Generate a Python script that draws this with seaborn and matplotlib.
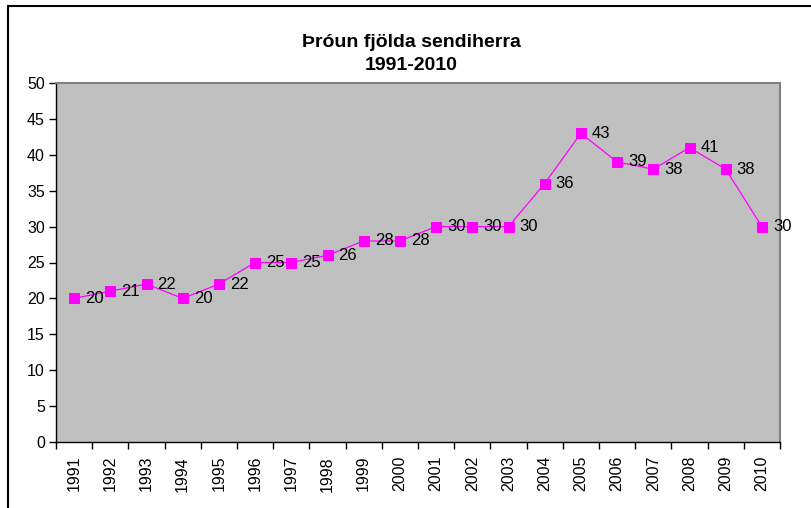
import matplotlib
matplotlib.use("Agg")
import matplotlib.pyplot as plt
import matplotlib.patches as patches
from matplotlib.ticker import FixedLocator, NullFormatter
import seaborn as sns
import pandas as pd

# Data
years = [str(y) for y in range(1991, 2011)]
ambassadors = [20, 21, 22, 20, 22, 25, 25, 26, 28, 28,
               30, 30, 30, 36, 43, 39, 38, 41, 38, 30]
title_text = "Þróun fjölda sendiherra\n1991-2010"

sns.set_theme(style="white", rc={'text.color': 'black', 'xtick.color': 'black',
                                 'ytick.color': 'black', 'axes.labelcolor': 'black'})
plt.rcParams['font.family'] = ['Liberation Sans', 'DejaVu Sans']

df = pd.DataFrame({'pos': range(len(years)), 'year': years, 'count': ambassadors})

fig = plt.figure(figsize=(8.11, 5.08), dpi=100)
ax = fig.add_axes([56 / 811, 1 - 442 / 508, (780 - 56) / 811, (442 - 83) / 508])
ax.set_facecolor('#C0C0C0')

sns.lineplot(data=df, x='pos', y='count', ax=ax, color='#FF00FF', linewidth=0.9,
             marker='s', markersize=6.5, markeredgecolor='#FF00FF', markerfacecolor='#FF00FF')

# Data labels
for i, v in enumerate(df['count']):
    ax.annotate(str(v), (i, v), xytext=(8, 0), textcoords='offset points',
                va='center', ha='left', fontsize=12, color='black')

# Axes limits and ticks (Excel style: ticks between categories)
ax.set_xlim(-0.5, len(years) - 0.5)
ax.set_ylim(0, 50)
ax.set_yticks(range(0, 51, 5))
ax.xaxis.set_major_locator(FixedLocator([i - 0.5 for i in range(len(years) + 1)]))
ax.xaxis.set_major_formatter(NullFormatter())
ax.set_xticks(range(len(years)), minor=True)
ax.set_xticklabels(years, minor=True, rotation=90, fontsize=11.5)
ax.tick_params(axis='x', which='major', direction='out', length=5, width=1, color='black', bottom=True)
ax.tick_params(axis='x', which='minor', length=0, pad=10, bottom=True)
ax.tick_params(axis='y', direction='out', length=5, width=1, color='black', left=True, labelsize=11.5, pad=3)
ax.set_xlabel('')
ax.set_ylabel('')

for side in ['left', 'bottom']:
    ax.spines[side].set_color('black')
    ax.spines[side].set_linewidth(1)
for side in ['top', 'right']:
    ax.spines[side].set_color('#808080')
    ax.spines[side].set_linewidth(1.5)

# Title
fig.text(411 / 811, 1 - 54 / 508, title_text, ha='center', va='center', color='black',
         fontsize=14, fontweight='bold', linespacing=1.45)

# Chart border (cropped on right and bottom)
border = patches.Rectangle((7.5 / 811, -0.1), 1.2, 1.1 - 6.5 / 508,
                           transform=fig.transFigure, fill=False,
                           edgecolor='black', linewidth=1.5, clip_on=False)
fig.patches.append(border)

fig.savefig('out.png', dpi=100)
